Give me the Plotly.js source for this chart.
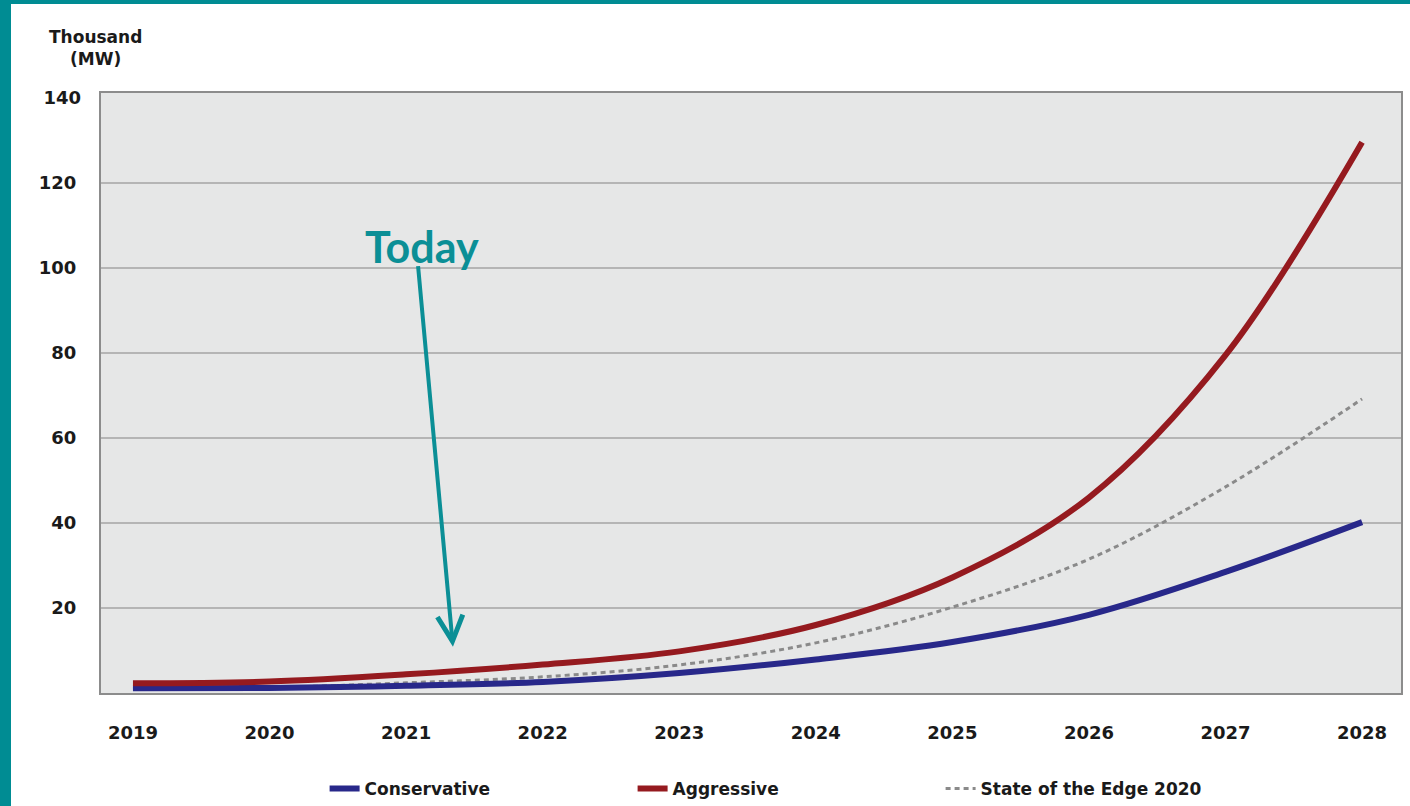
<!DOCTYPE html>
<html>
<head>
<meta charset="utf-8">
<script src="https://cdn.plot.ly/plotly-3.0.1.min.js"></script>
<style>
  html, body { margin: 0; padding: 0; background: #008c93; width: 1410px; height: 806px; overflow: hidden; }
  #chart { position: absolute; left: 11px; top: 4px; width: 1399px; height: 802px; background: #ffffff; }
</style>
</head>
<body>
<div id="chart"></div>
<script>
// Years on the x axis
const years = [2019, 2020, 2021, 2022, 2023, 2024, 2025, 2026, 2027, 2028];
const yearLabels = ['2019', '2020', '2021', '2022', '2023', '2024', '2025', '2026', '2027', '2028'];

// Series values (thousand MW)
const conservative = [1.1, 1.2, 1.7, 2.6, 4.7, 7.9, 12.0, 18.4, 28.5, 40.2];
const aggressive   = [2.3, 2.7, 4.4, 6.7, 9.8, 16.0, 27.2, 46.0, 79.5, 129.6];
const stateOfEdge  = [1.1, 1.3, 2.4, 3.8, 6.6, 11.8, 20.2, 31.5, 48.5, 69.2];

// Y tick values / labels
const yTickVals = [20, 40, 60, 80, 100, 120];
const yTopTick = [140];

// "Today" marker
const todayYear = 2021.343;
const todayValue = 10.9;

const traces = [
  {
    x: years, y: stateOfEdge, name: 'State of the Edge 2020', mode: 'lines',
    line: { color: '#8a8a8a', width: 3, dash: '5px,4px', shape: 'spline', smoothing: 1 },
    legendrank: 3, hoverinfo: 'x+y'
  },
  {
    x: years, y: conservative, name: 'Conservative', mode: 'lines',
    line: { color: '#28288a', width: 6, shape: 'spline', smoothing: 1 },
    legendrank: 1, hoverinfo: 'x+y'
  },
  {
    x: years, y: aggressive, name: 'Aggressive', mode: 'lines',
    line: { color: '#951a1f', width: 6, shape: 'spline', smoothing: 1 },
    legendrank: 2, hoverinfo: 'x+y'
  },
  {
    x: [years[0]], y: [yTopTick[0]], yaxis: 'y2', mode: 'markers',
    marker: { opacity: 0 }, showlegend: false, hoverinfo: 'skip'
  }
];

const tickFont = { family: 'DejaVu Sans, Verdana, sans-serif', size: 18, color: '#1a1a1a', weight: 'bold' };

const layout = {
  width: 1399, height: 802,
  margin: { l: 90, r: 9, t: 89, b: 113, autoexpand: false },
  paper_bgcolor: '#ffffff',
  plot_bgcolor: '#e6e7e7',
  showlegend: true,
  legend: {
    orientation: 'h', x: 0.172, xanchor: 'left', y: -0.16, yanchor: 'middle',
    font: { family: 'DejaVu Sans, Verdana, sans-serif', size: 17, color: '#1a1a1a', weight: 'bold' },
    entrywidth: 263, entrywidthmode: 'pixels', bgcolor: 'rgba(0,0,0,0)',
    traceorder: 'normal'
  },
  xaxis: {
    range: [2018.766, 2028.285], tickvals: years, ticktext: yearLabels,
    showgrid: false, zeroline: false, ticks: '', ticklabelstandoff: 22,
    showline: true, mirror: true, linecolor: '#8c8c8c', linewidth: 2,
    tickfont: tickFont, fixedrange: true
  },
  yaxis: {
    range: [0, 141.2], tickvals: yTickVals, ticktext: yTickVals.map(String),
    showgrid: true, gridcolor: '#b5b5b5', gridwidth: 1.5, zeroline: false,
    ticks: '', ticklabelstandoff: 19,
    showline: true, mirror: true, linecolor: '#8c8c8c', linewidth: 2,
    tickfont: tickFont, fixedrange: true
  },
  yaxis2: {
    overlaying: 'y', side: 'left', range: [0, 141.2], tickvals: yTopTick, ticktext: yTopTick.map(String),
    showgrid: false, zeroline: false, ticks: '', ticklabelstandoff: 19, showline: false,
    tickfont: tickFont, fixedrange: true
  },
  annotations: [
    {
      xref: 'paper', yref: 'paper', x: -0.0046, y: 1.037, xanchor: 'center', yanchor: 'bottom',
      text: 'Thousand<br>(MW)', showarrow: false, align: 'center',
      font: { family: 'DejaVu Sans, Verdana, sans-serif', size: 17, color: '#1a1a1a', weight: 'bold' }
    },
    {
      x: 2021.12, y: 105.0, xref: 'x', yref: 'y', text: 'Today', showarrow: false,
      font: { family: 'Lato, Open Sans, sans-serif', size: 43, color: '#0b8f96', weight: 'bold' }
    },
    {
      x: todayYear, y: todayValue, xref: 'x', yref: 'y', text: '', showarrow: true,
      ax: -35, ay: -382, arrowcolor: '#0b8f96', arrowwidth: 4, arrowhead: 5, arrowsize: 1.25
    }
  ]
};

Plotly.newPlot('chart', traces, layout, { displayModeBar: false, staticPlot: true });
</script>
</body>
</html>
